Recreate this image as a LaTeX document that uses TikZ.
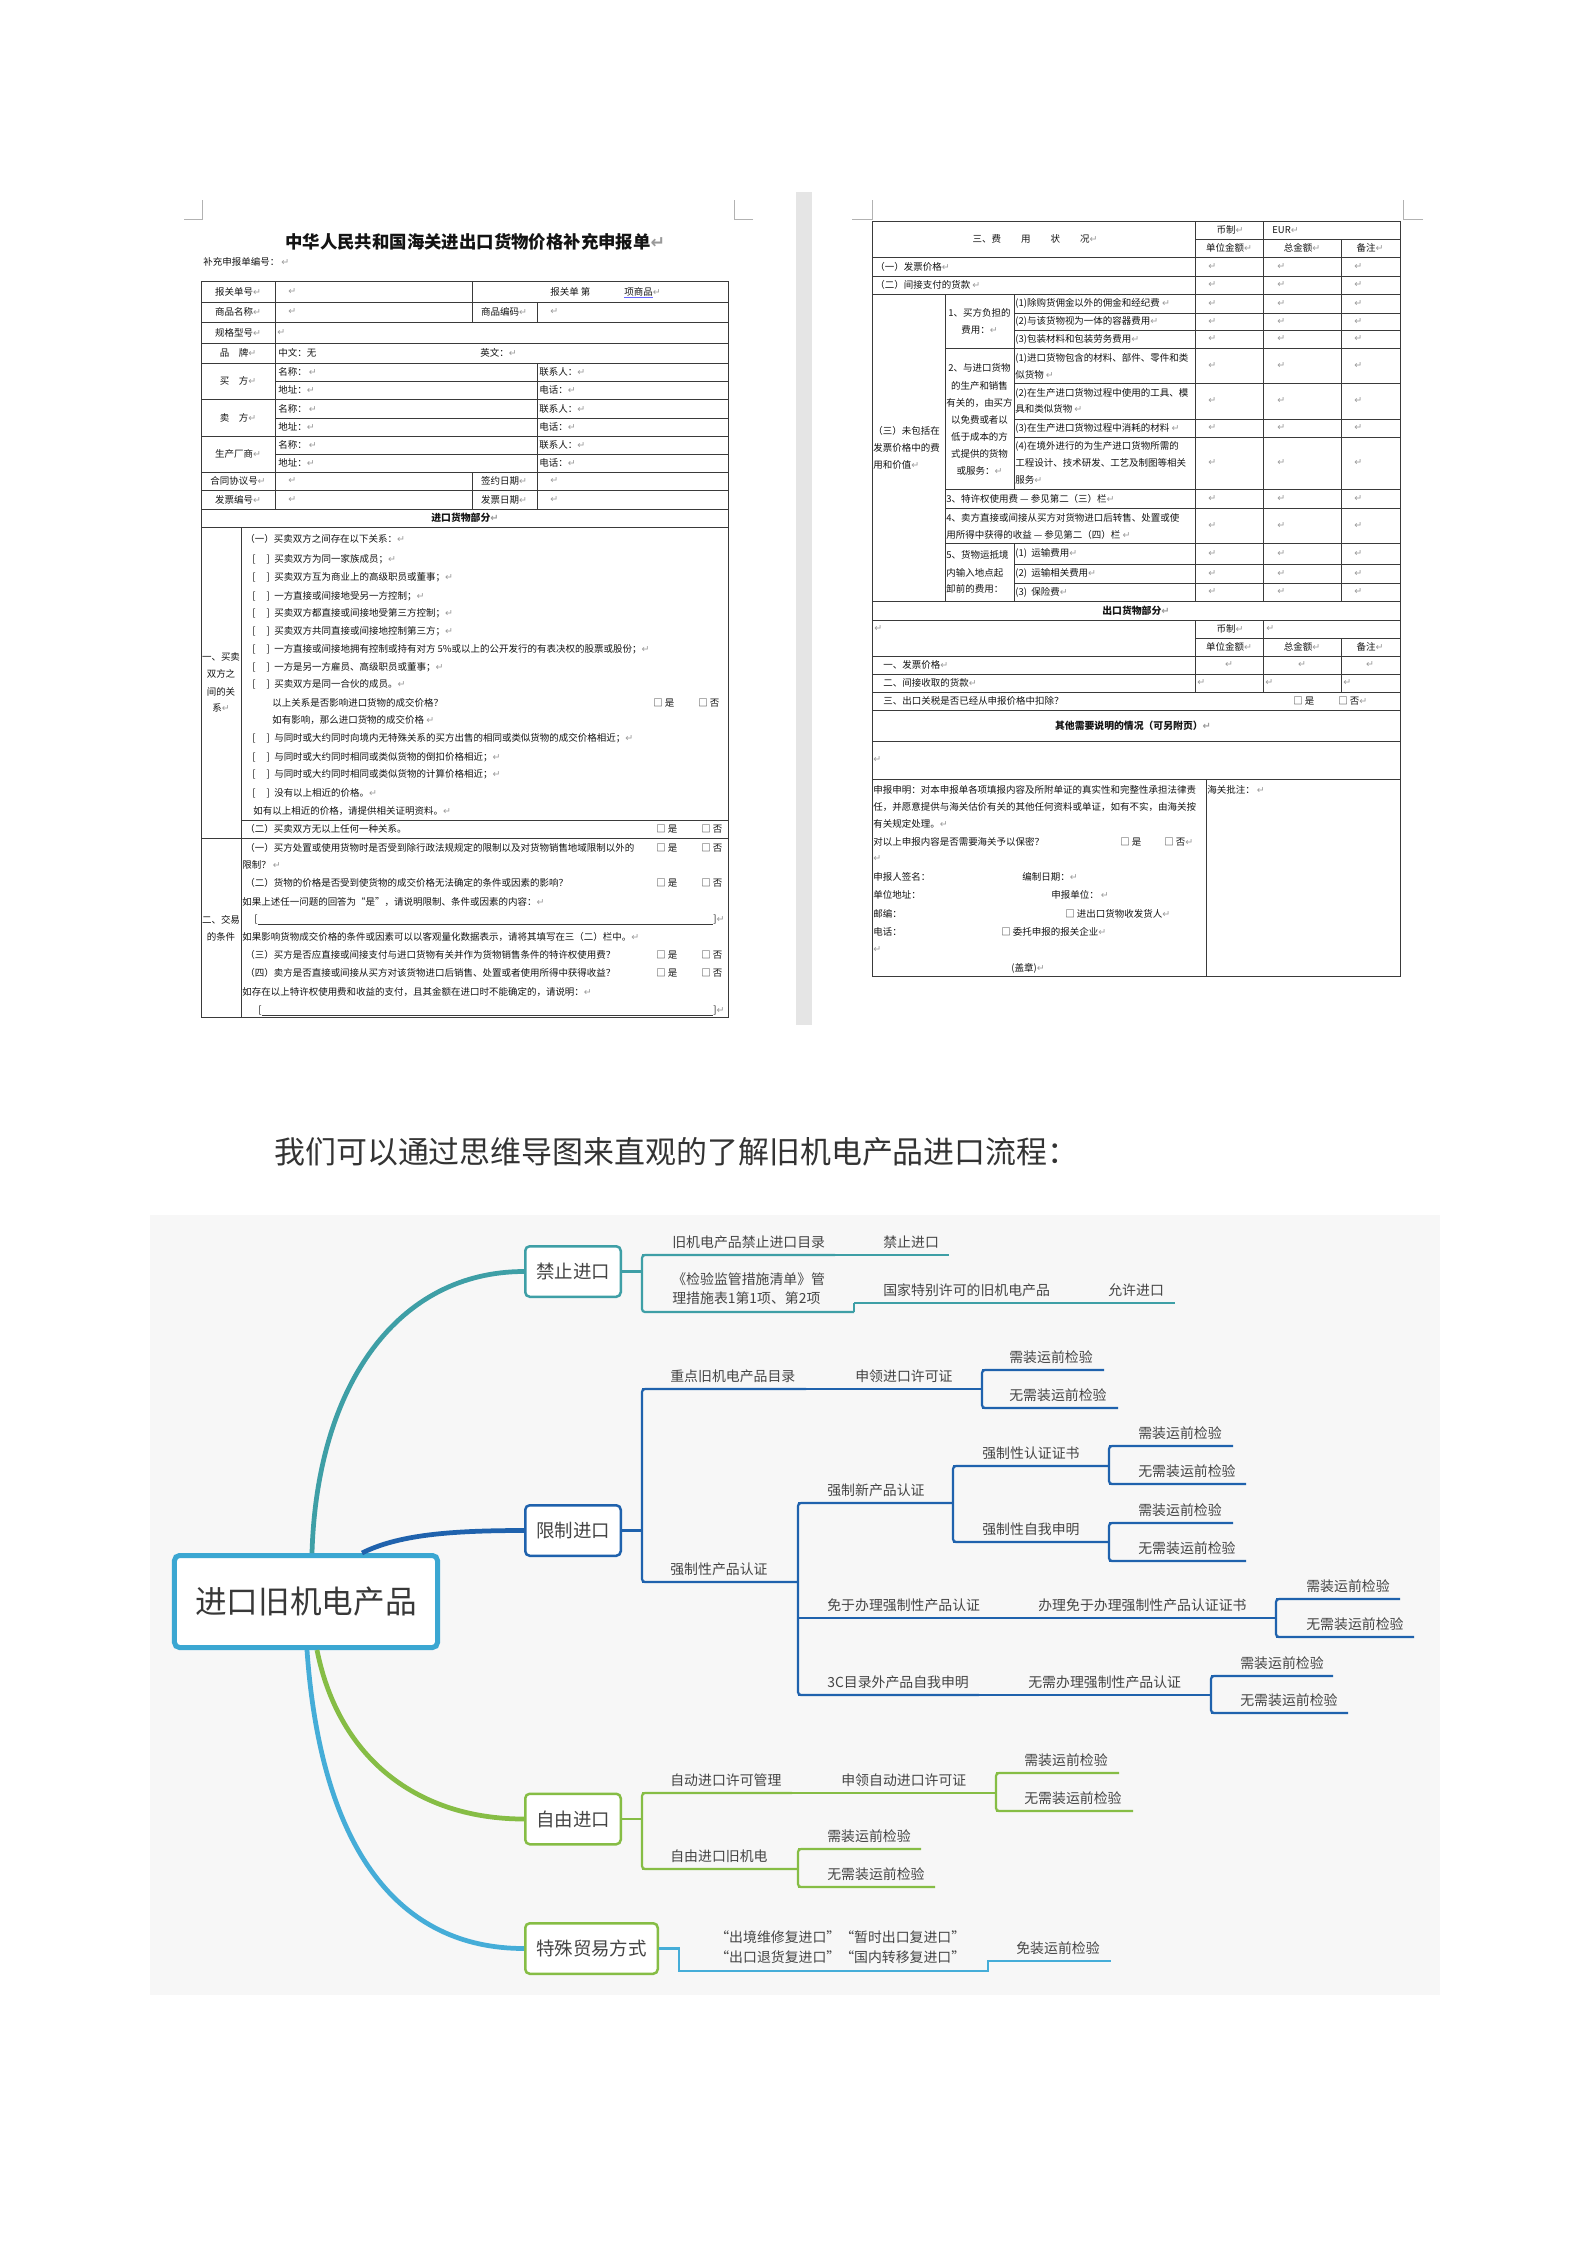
\documentclass[tikz,border=0pt]{standalone}
\usepackage{fontspec}
\setmainfont{Noto Sans CJK SC}
\newfontfamily\djv{DejaVu Sans}
\usetikzlibrary{calc}
\definecolor{mapbg}{HTML}{F7F7F7}
\definecolor{jzc}{HTML}{3E9FA6}
\definecolor{xzc}{HTML}{1F62AD}
\definecolor{zyc}{HTML}{86BD45}
\definecolor{tsc}{HTML}{45ADD8}
\definecolor{rootc}{HTML}{3BA7D2}
\definecolor{maptxt}{HTML}{444444}
\definecolor{frmln}{HTML}{3A3A3A}
\newcommand{\retmk}{{\djv\color{black!40}↵}}
\newcommand{\sqbr}{[\hspace{2.2mm}]\hspace{0.9mm}}
\begin{document}
\begin{tikzpicture}[x=0.2mm,y=-0.2mm,
  fl/.style={line width=0.2mm,frmln},
  ft/.style={anchor=west,inner sep=0pt,font=\fontsize{5.4}{6.5}\selectfont,text=black!92},
  fc/.style={ft,anchor=center},
  fb/.style={fc,font=\fontsize{5.6}{6.5}\selectfont\bfseries},
  cornr/.style={line width=0.15mm,black!30},
  lvl/.style={draw,fill=white,rounded corners=0.9mm,line width=0.5mm,minimum height=10.1mm,
    inner sep=0pt,text=maptxt,font=\fontsize{10.5}{12}\selectfont},
  lbl/.style={anchor=base west,inner sep=0pt,text=maptxt,font=\fontsize{7.9}{10.8}\selectfont},
  tline/.style={line width=0.45mm},
  brk/.style={line width=0.45mm,rounded corners=0.6mm},
  trunk/.style={line width=0.95mm}]
\useasboundingbox (0,0) rectangle (1587,2245);
\fill[white] (0,0) rectangle (1587,2245);

% left page of the form
\draw[cornr] (184,219) -- (202,219) -- (202,200);
\draw[cornr] (753,219) -- (734,219) -- (734,200);
\node[ft,font=\fontsize{9.9}{11}\selectfont\bfseries] (ltitle) at (285,242) {中华人民共和国海关进出口货物价格补充申报单\retmk};
\node[ft] (lno) at (203,262) {补充申报单编号：\ \retmk};
\draw[fl] (201,281) rectangle (728,1017);
\foreach \y in {302,322,343,363,399,436,472,490,509,527,838} \draw[fl] (201,\y) -- (728,\y);
\foreach \y in {381,418,454} \draw[fl] (275,\y) -- (728,\y);
\draw[fl] (241,820) -- (728,820);
\draw[fl] (275,281) -- (275,509);
\draw[fl] (472,281) -- (472,322) (472,472) -- (472,509);
\draw[fl] (537,302) -- (537,322) (537,363) -- (537,509);
\draw[fl] (241,527) -- (241,1017);
\foreach \y/\txt [count=\i] in {291.5/报关单号,312/商品名称,332.5/规格型号,353/{品\quad 牌},381/{买\quad 方},
    418/{卖\quad 方},454/生产厂商,481/合同协议号,499.5/发票编号}
  \node[fc] (lab\i) at (238,\y) {\txt\retmk};
\node[ft] (r1a) at (288,291.5) {\retmk};
\node[ft] (r1b) at (550,291.5) {报关单\ 第};
\node[ft] (r1c) at (624,291.5) {项商品\retmk};
\draw[blue!60,line width=0.15mm] ([yshift=-0.2mm]r1c.south west) -- ++(29,0);
\node[ft] (r2a) at (288,312) {\retmk};
\node[fc] (r2b) at (504,312) {商品编码\retmk};
\node[ft] (r2c) at (550,312) {\retmk};
\node[ft] (r3a) at (277,332.5) {\retmk};
\node[ft] (r4a) at (278,353) {中文：无};
\node[ft] (r4b) at (480,353) {英文：\retmk};
\foreach \y [count=\i] in {372,408.5,445} {
  \node[ft] (nm\i) at (278,\y) {名称：\ \retmk};
  \node[ft] (ct\i) at (539,\y) {联系人：\retmk};
  \node[ft] (ad\i) at (278,\y+18) {地址：\retmk};
  \node[ft] (tl\i) at (539,\y+18) {电话：\retmk};
}
\foreach \y/\txt [count=\i] in {481/签约日期,499.5/发票日期} {
  \node[ft] (da\i) at (288,\y) {\retmk};
  \node[fc] (db\i) at (504,\y) {\txt\retmk};
  \node[ft] (dc\i) at (550,\y) {\retmk};
}
\node[fb] (imp) at (465,518) {进口货物部分\retmk};
\node[ft] (s1h) at (245,539) {（一）买卖双方之间存在以下关系：\retmk};
\foreach \y/\txt [count=\i] in {559/买卖双方为同一家族成员；,577/买卖双方互为商业上的高级职员或董事；,
    596/一方直接或间接地受另一方控制；,613/买卖双方都直接或间接地受第三方控制；,
    631/买卖双方共同直接或间接地控制第三方；,
    649/一方直接或间接地拥有控制或持有对方 5\%或以上的公开发行的有表决权的股票或股份；,
    667/一方是另一方雇员、高级职员或董事；,684/买卖双方是同一合伙的成员。}
  \node[ft] (rel\i) at (252,\y) {\sqbr\txt\retmk};
\node[ft] (q1) at (272,703) {以上关系是否影响进口货物的成交价格？};
\node[ft] (q2) at (272,720) {如有影响，那么进口货物的成交价格\ \retmk};
\foreach \y/\txt [count=\i] in {738/与同时或大约同时向境内无特殊关系的买方出售的相同或类似货物的成交价格相近；,
    757/与同时或大约同时相同或类似货物的倒扣价格相近；,774/与同时或大约同时相同或类似货物的计算价格相近；,
    793/没有以上相近的价格。}
  \node[ft] (pr\i) at (252,\y) {\sqbr\txt\retmk};
\node[ft] (prn) at (253,811) {如有以上相近的价格，请提供相关证明资料。\retmk};
\node[ft] (s1b) at (245,829) {（二）买卖双方无以上任何一种关系。};
\foreach \y/\x [count=\i] in {703/653,829/656,848/656,883/656,955/656,973/656} {
  \node[ft] (yes\i) at (\x,\y) {□\ 是};
  \node[ft] (no\i) at (\x+45,\y) {□\ 否};
}
\foreach \y/\txt [count=\i] in {657/一、买卖,674/双方之,692/间的关,708/系\retmk,920/二、交易,937/的条件}
  \node[fc] (sec\i) at (221,\y) {\txt};
\node[ft] (t1) at (245,848) {（一）买方处置或使用货物时是否受到除行政法规规定的限制以及对货物销售地域限制以外的};
\node[ft] (t2) at (242,865) {限制？\ \retmk};
\node[ft] (t3) at (245,883) {（二）货物的价格是否受到使货物的成交价格无法确定的条件或因素的影响？};
\node[ft] (t4) at (242,902) {如果上述任一问题的回答为“是”，请说明限制、条件或因素的内容：\retmk};
\node[ft] (t5) at (242,937) {如果影响货物成交价格的条件或因素可以以客观量化数据表示，请将其填写在三（二）栏中。\retmk};
\node[ft] (t6) at (245,955) {（三）买方是否应直接或间接支付与进口货物有关并作为货物销售条件的特许权使用费？};
\node[ft] (t7) at (245,973) {（四）卖方是否直接或间接从买方对该货物进口后销售、处置或者使用所得中获得收益？};
\node[ft] (t8) at (242,992) {如存在以上特许权使用费和收益的支付，且其金额在进口时不能确定的，请说明：\retmk};
\foreach \y/\x [count=\i] in {920/254,1011/258} {
  \node[ft] (bl\i) at (\x,\y) {[};
  \node[ft] (br\i) at (713,\y) {]\retmk};
  \draw[fl] (bl\i.south east) -- (br\i.south west);
}

% right page of the form
\fill[black!10] (796,192) rectangle (812,1025);
\draw[cornr] (852,219) -- (872,219) -- (872,200);
\draw[cornr] (1423,219) -- (1403,219) -- (1403,200);
\draw[fl] (872,221) rectangle (1400,976);
\foreach \y in {257,276,294,601,620,656,674,692,710,741,779} \draw[fl] (872,\y) -- (1400,\y);
\draw[fl] (1195,239) -- (1400,239) (1195,638) -- (1400,638);
\foreach \x in {1195,1263} \draw[fl] (\x,221) -- (\x,601) (\x,620) -- (\x,692);
\draw[fl] (1341,239) -- (1341,601) (1341,638) -- (1341,692);
\draw[fl] (945,294) -- (945,601);
\draw[fl] (1014,294) -- (1014,489) (1014,543) -- (1014,601);
\foreach \y in {313,330,383,419,437,564,583} \draw[fl] (1014,\y) -- (1400,\y);
\foreach \y in {348,489,508,543} \draw[fl] (945,\y) -- (1400,\y);
\draw[fl] (1206,779) -- (1206,976);
\node[fc] (fee) at (1035,239) {三、费\hspace{4mm}用\hspace{4mm}状\hspace{4mm}况\retmk};
\foreach \y [count=\i] in {230,629} \node[fc] (cur\i) at (1230,\y) {币制\retmk};
\node[ft] (eur) at (1272,230) {EUR\retmk};
\node[ft] (eur2) at (1266,629) {\retmk};
\foreach \y [count=\i] in {248,647} {
  \node[fc] (ua\i) at (1229,\y) {单位金额\retmk};
  \node[fc] (ta\i) at (1302,\y) {总金额\retmk};
  \node[fc] (rm\i) at (1370,\y) {备注\retmk};
}
\foreach \y [count=\i] in {266.5,285,303.5,321.5,339,365.5,401,428,463,498.5,525.5,553.5,573.5,592}
  \foreach \x [count=\j] in {1208,1277,1354} \node[ft] (rv\i-\j) at (\x,\y) {\retmk};
\node[ft] (f1) at (875,266.5) {（一）发票价格\retmk};
\node[ft] (f2) at (875,285) {（二）间接支付的货款\ \retmk};
\foreach \y/\txt [count=\i] in {431/（三）未包括在,448/发票价格中的费,465/用和价值\retmk}
  \node[ft] (f3\i) at (873,\y) {\txt};
\foreach \y/\txt [count=\i] in {313/1、买方负担的,330/费用：\retmk,368/2、与进口货物,386/的生产和销售,
    403/{有关的，由买方},420/以免费或者以,437/低于成本的方,454/式提供的货物,471/或服务：\retmk}
  \node[fc] (g\i) at (979.5,\y) {\txt};
\foreach \y/\txt [count=\i] in {303.5/(1)除购货佣金以外的佣金和经纪费\ \retmk,321.5/(2)与该货物视为一体的容器费用\retmk,
    339/(3)包装材料和包装劳务费用\retmk,358/(1)进口货物包含的材料、部件、零件和类,375/似货物\ \retmk,
    393/(2)在生产进口货物过程中使用的工具、模,409/具和类似货物\ \retmk,428/(3)在生产进口货物过程中消耗的材料\ \retmk,
    446/(4)在境外进行的为生产进口货物所需的,463/工程设计、技术研发、工艺及制图等相关,480/服务\retmk,
    553.5/(1)\ \ 运输费用\retmk,573.5/(2)\ \ 运输相关费用\retmk,592/(3)\ \ 保险费\retmk}
  \node[ft] (it\i) at (1015,\y) {\txt};
\foreach \y/\txt [count=\i] in {498.5/3、特许权使用费 — 参见第二（三）栏\retmk,518/4、卖方直接或间接从买方对货物进口后转售、处置或使,
    535/用所得中获得的收益 — 参见第二（四）栏\ \retmk,555/5、货物运抵境,573/内输入地点起,589/卸前的费用：}
  \node[ft] (h\i) at (946,\y) {\txt};
\node[fb] (exp) at (1136,610.5) {出口货物部分\retmk};
\node[ft] (e0) at (874,629) {\retmk};
\node[ft] (e1) at (883,665) {一、发票价格\retmk};
\foreach \x [count=\j] in {1229,1302,1370} \node[fc] (ev\j) at (\x,665) {\retmk};
\node[ft] (e2) at (883,683) {二、间接收取的货款\retmk};
\foreach \x [count=\j] in {1197,1265,1343} \node[ft] (ew\j) at (\x,683) {\retmk};
\node[ft] (e3) at (883,701) {三、出口关税是否已经从申报价格中扣除？};
\node[ft] (e3y) at (1293,701) {□\ 是};
\node[ft] (e3n) at (1338,701) {□\ 否\retmk};
\node[fb] (oth) at (1133,725.5) {其他需要说明的情况（可另附页）\retmk};
\node[ft] (bk) at (873,760) {\retmk};
\foreach \y/\txt [count=\i] in {790/申报申明：对本申报单各项填报内容及所附单证的真实性和完整性承担法律责,
    807/{任，并愿意提供与海关估价有关的其他任何资料或单证，如有不实，由海关按},824/有关规定处理。\retmk,
    842/对以上申报内容是否需要海关予以保密？,859/\retmk,877/申报人签名：,895/单位地址：,914/邮编：,
    932/电话：,950/\retmk}
  \node[ft] (dl\i) at (873,\y) {\txt};
\node[ft] (dsy) at (1120,842) {□\ 是};
\node[ft] (dsn) at (1164,842) {□\ 否\retmk};
\node[ft] (dd1) at (1022,877) {编制日期：\retmk};
\node[ft] (dd2) at (1051,895) {申报单位：\ \retmk};
\node[ft] (dd3) at (1065,914) {□\ 进出口货物收发货人\retmk};
\node[ft] (dd4) at (1001,932) {□\ 委托申报的报关企业\retmk};
\node[ft] (seal) at (1011,968) {(盖章)\retmk};
\node[ft] (cus) at (1207,790) {海关批注：\ \retmk};

% heading and mind map
\node[anchor=west,inner sep=0pt,text=black!80,font=\fontsize{17.6}{20}\selectfont] (head) at (274,1152)
  {我们可以通过思维导图来直观的了解旧机电产品进口流程：};
\fill[mapbg] (150,1215) rectangle (1440,1995);
\node[draw=rootc,fill=white,line width=1mm,rounded corners=1mm,minimum width=52.6mm,minimum height=18.4mm,
  inner sep=0pt,text=black!78,font=\fontsize{18}{20}\selectfont] (root) at (306,1601.5) {进口旧机电产品};
\node[lvl,draw=jzc,minimum width=19.1mm] (jz) at (573,1271.5) {禁止进口};
\node[lvl,draw=xzc,minimum width=19.1mm] (xz) at (573,1530.5) {限制进口};
\node[lvl,draw=zyc,minimum width=19.1mm] (zy) at (573,1819) {自由进口};
\node[lvl,draw=zyc,minimum width=26.5mm] (ts) at (591.5,1948.5) {特殊贸易方式};
\coordinate (r1) at ($(root.north west)+(140,0)$);
\coordinate (r2) at ($(root.north west)+(190,0)$);
\coordinate (r3) at ($(root.south west)+(145,0)$);
\coordinate (r4) at ($(root.south west)+(135,0)$);
\draw[trunk,jzc] (r1) .. controls +(5,-170) and +(-125,0) .. (jz.west);
\draw[trunk,xzc] (r2) .. controls +(36,-18) and +(-75,0) .. (xz.west);
\draw[trunk,zyc] (r3) .. controls +(22,110) and +(-105,0) .. (zy.west);
\draw[trunk,tsc] (r4) .. controls +(14,200) and +(-125,0) .. (ts.west);

% forbidden imports
\begin{scope}[color=jzc]
  \foreach \n/\xa/\xb/\y/\xt/\txt in {jz1/642/835/1255/672/旧机电产品禁止进口目录,jz1a/835/949/1255/883/禁止进口,
      jz3/854/1080/1303/883/国家特别许可的旧机电产品,jz4/1080/1175/1303/1108/允许进口} {
    \coordinate (\n-s) at (\xa,\y);
    \coordinate (\n-e) at (\xb,\y);
    \node[lbl] (\n) at (\xt,\y-8) {\txt};
    \draw[tline] (\n-s) -- (\n-e);
  }
  \coordinate (jz2-s) at (642,1312);
  \coordinate (jz2-e) at (854,1312);
  \node[lbl,anchor=south west,align=left] (jz2) at (672,1305) {《检验监管措施清单》管\\理措施表1第1项、第2项};
  \draw[tline] (jz2-e) -- (jz3-s);
  \draw[brk] (jz1-e) -- (jz1-s) -- (jz2-s) -- (jz2-e);
  \draw[tline] (jz.east) -- (jz.east -| jz1-s);
\end{scope}

% restricted imports
\begin{scope}[color=xzc]
  \foreach \n/\xa/\xb/\y/\xt/\txt in {xz1/642/806/1389/670/重点旧机电产品目录,xz1a/806/982/1389/855/申领进口许可证,
      xz1b/982/1104/1370/1009/需装运前检验,xz1c/982/1118/1408/1009/无需装运前检验,
      xz2/642/798/1582/670/强制性产品认证,xz21/798/953/1503/827/强制新产品认证,
      xz211/953/1109/1466/982/强制性认证证书,xz2111/1109/1233/1446/1138/需装运前检验,
      xz2112/1109/1246/1484/1138/无需装运前检验,xz212/953/1109/1542/982/强制性自我申明,
      xz2121/1109/1233/1523/1138/需装运前检验,xz2122/1109/1246/1561/1138/无需装运前检验,
      xz22/798/990/1618/827/免于办理强制性产品认证,xz22a/990/1276/1618/1038/办理免于办理强制性产品认证证书,
      xz22b/1276/1400/1599/1306/需装运前检验,xz22c/1276/1414/1637/1306/无需装运前检验,
      xz23/798/979/1695/827/3C目录外产品自我申明,xz23a/979/1211/1695/1028/无需办理强制性产品认证,
      xz23b/1211/1333/1676/1240/需装运前检验,xz23c/1211/1348/1713/1240/无需装运前检验} {
    \coordinate (\n-s) at (\xa,\y);
    \coordinate (\n-e) at (\xb,\y);
    \node[lbl] (\n) at (\xt,\y-8) {\txt};
    \draw[tline] (\n-s) -- (\n-e);
  }
  \foreach \a/\b in {xz1/xz2,xz1b/xz1c,xz21/xz23,xz211/xz212,xz2111/xz2112,xz2121/xz2122,xz22b/xz22c,xz23b/xz23c}
    \draw[brk] (\a-e) -- (\a-s) -- (\b-s) -- (\b-e);
  \draw[tline] (xz.east) -- (xz.east -| xz1-s);
\end{scope}

% free imports
\begin{scope}[color=zyc]
  \foreach \n/\xa/\xb/\y/\xt/\txt in {zy1/642/792/1793/670/自动进口许可管理,zy1a/792/996/1793/841/申领自动进口许可证,
      zy1b/996/1119/1773/1024/需装运前检验,zy1c/996/1133/1811/1024/无需装运前检验,
      zy2/642/798/1869/670/自由进口旧机电,zy2a/798/921/1849/827/需装运前检验,zy2b/798/935/1887/827/无需装运前检验} {
    \coordinate (\n-s) at (\xa,\y);
    \coordinate (\n-e) at (\xb,\y);
    \node[lbl] (\n) at (\xt,\y-8) {\txt};
    \draw[tline] (\n-s) -- (\n-e);
  }
  \foreach \a/\b in {zy1/zy2,zy1b/zy1c,zy2a/zy2b}
    \draw[brk] (\a-e) -- (\a-s) -- (\b-s) -- (\b-e);
  \draw[tline] (zy.east) -- (zy.east -| zy1-s);
\end{scope}

% special trade
\begin{scope}[color=tsc]
  \coordinate (ts1-s) at (679,1971);
  \coordinate (ts1-e) at (988,1971);
  \coordinate (ts2-s) at (988,1961);
  \coordinate (ts2-e) at (1111,1961);
  \node[lbl,anchor=south west,align=left,font=\fontsize{7.9}{11.3}\selectfont] (ts1) at (715,1964)
    {“出境维修复进口”“暂时出口复进口”\\“出口退货复进口”“国内转移复进口”};
  \node[lbl] (ts2) at (1016,1953) {免装运前检验};
  \draw[tline] (ts.east) -| (ts1-s) -- (ts1-e) -- (ts2-s) -- (ts2-e);
\end{scope}
\end{tikzpicture}
\end{document}
